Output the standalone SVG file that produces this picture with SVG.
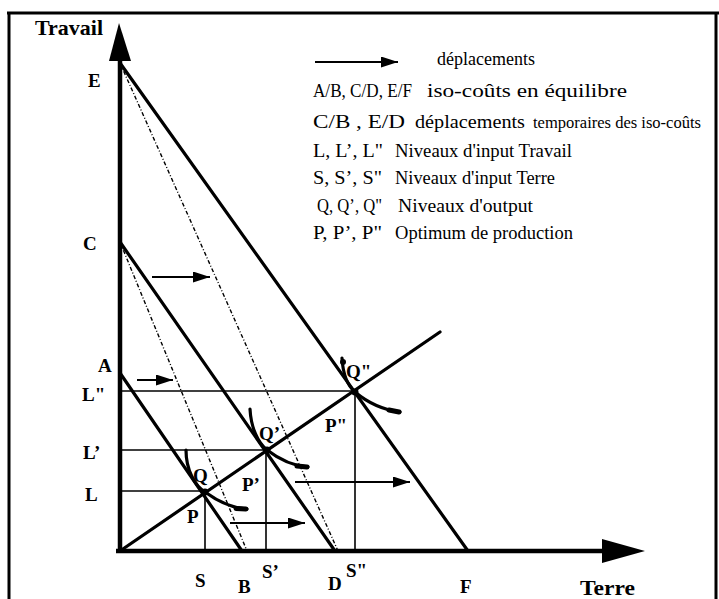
<svg xmlns="http://www.w3.org/2000/svg" width="719" height="599" viewBox="0 0 719 599">
<style>
.frame{stroke:#000;stroke-width:3;fill:none}
.axis{stroke:#000;stroke-width:4.5;fill:none}
.iso{stroke:#000;stroke-width:3.2;fill:none;stroke-linecap:round}
.tmp{stroke:#000;stroke-width:1.4;fill:none;stroke-dasharray:4 2 1 2}
.guide{stroke:#000;stroke-width:1.6;fill:none}
.quant{stroke:#000;stroke-width:3.2;fill:none;stroke-linecap:round}
.tail{stroke:#000;stroke-width:5;fill:none;stroke-linecap:round}
.mv{stroke:#000;stroke-width:2;fill:none}
.lab{font-family:"Liberation Serif","Times New Roman",serif;font-weight:bold;font-size:19px;fill:#000}
.big{font-size:21px}
.leg{font-family:"Liberation Serif","Times New Roman",serif;font-size:19px;fill:#000}
.small{font-size:16px}
</style>
<defs>
<marker id="ah" markerUnits="userSpaceOnUse" markerWidth="17" markerHeight="11" refX="17" refY="5.5" orient="auto">
<path d="M0,0 L17,5.5 L0,11 Z" fill="#000"/>
</marker>
</defs>
<rect x="0" y="0" width="719" height="599" fill="#fff"/>
<g id="frame">
<line class="frame" x1="7" y1="13" x2="719" y2="13"/>
<line class="frame" x1="9" y1="12" x2="9" y2="599"/>
<line class="frame" x1="716" y1="12" x2="716" y2="599"/>
</g>
<g id="axes">
<line class="axis" x1="120" y1="58" x2="120" y2="553"/>
<polygon points="119,23 131,61 109,61" fill="#000"/>
<line class="axis" x1="116" y1="551" x2="606" y2="551"/>
<polygon points="602,539 645,551 602,563" fill="#000"/>
</g>
<g id="connectors">
<g id="guides">
<line class="guide" x1="120" y1="391" x2="355" y2="391"/>
<line class="guide" x1="120" y1="450" x2="267" y2="450"/>
<line class="guide" x1="120" y1="491" x2="205" y2="491"/>
<line class="guide" x1="205" y1="491" x2="205" y2="551"/>
<line class="guide" x1="266" y1="450" x2="266" y2="551"/>
<line class="guide" x1="355" y1="391" x2="355" y2="551"/>
</g>
<g id="temporary-isocosts">
<line class="tmp" x1="120" y1="63" x2="338" y2="551"/>
<line class="tmp" x1="120" y1="242" x2="247" y2="551"/>
</g>
<g id="isocosts">
<line class="iso" x1="120" y1="63" x2="468" y2="551"/>
<line class="iso" x1="120" y1="242" x2="335" y2="551"/>
<line class="iso" x1="120" y1="373" x2="242" y2="551"/>
</g>
<line id="expansion-path" class="iso" x1="120" y1="551" x2="440" y2="332"/>
<g id="isoquants">
<path class="quant" d="M186,450 C186,470 195,486 205,492 C216,500 230,508 247,509"/>
<path class="tail" d="M236,508.5 L246,509"/>
<path class="quant" d="M250,409 C251,428 258,443 267,450 C280,460 294,466 308,467"/>
<path class="tail" d="M297,466 L307,467"/>
<path class="quant" d="M342,358 C343,375 348,386 355,392 C368,403 385,410 400,412"/>
<path class="tail" d="M389,410 L399,412"/>
<circle cx="205" cy="492" r="3.5"/>
<circle cx="267" cy="450" r="3.5"/>
<circle cx="355" cy="392" r="3.5"/>
<circle cx="343" cy="362" r="3"/>
</g>
<g id="moves">
<line class="mv" x1="137" y1="380" x2="173" y2="380" marker-end="url(#ah)"/>
<line class="mv" x1="152" y1="277" x2="210" y2="277" marker-end="url(#ah)"/>
<line class="mv" x1="230" y1="523" x2="305" y2="523" marker-end="url(#ah)"/>
<line class="mv" x1="295" y1="482" x2="410" y2="482" marker-end="url(#ah)"/>
</g>
</g>
<g id="axis-labels">
<text class="lab big" x="35" y="35" textLength="68" lengthAdjust="spacingAndGlyphs">Travail</text>
<text class="lab big" x="580" y="595" textLength="55" lengthAdjust="spacingAndGlyphs">Terre</text>
<text class="lab" x="88" y="87">E</text>
<text class="lab" x="83" y="250">C</text>
<text class="lab" x="98" y="372">A</text>
<text class="lab" x="82" y="401">L"</text>
<text class="lab" x="83" y="459">L’</text>
<text class="lab" x="85" y="501">L</text>
<text class="lab" x="195" y="587">S</text>
<text class="lab" x="238" y="593">B</text>
<text class="lab" x="262" y="578">S’</text>
<text class="lab" x="328" y="590">D</text>
<text class="lab" x="346" y="577">S"</text>
<text class="lab" x="460" y="593">F</text>
</g>
<g id="point-labels">
<text class="lab" x="193" y="482">Q</text>
<text class="lab" x="187" y="523">P</text>
<text class="lab" x="259" y="440">Q’</text>
<text class="lab" x="242" y="491">P’</text>
<text class="lab" x="346" y="378">Q"</text>
<text class="lab" x="325" y="432">P"</text>
</g>
<g id="legend">
<line class="mv" x1="315" y1="62" x2="398" y2="62" marker-end="url(#ah)"/>
<text class="leg" x="437" y="65" textLength="98" lengthAdjust="spacingAndGlyphs">déplacements</text>
<text class="leg" x="313" y="97" textLength="99" lengthAdjust="spacingAndGlyphs">A/B, C/D, E/F</text>
<text class="leg" x="427" y="97" textLength="200" lengthAdjust="spacingAndGlyphs">iso-coûts en équilibre</text>
<text class="leg" x="313" y="128" textLength="92" lengthAdjust="spacingAndGlyphs">C/B , E/D</text>
<text class="leg" x="415" y="128" textLength="110" lengthAdjust="spacingAndGlyphs">déplacements</text>
<text class="leg small" x="533" y="128" textLength="168" lengthAdjust="spacingAndGlyphs">temporaires des iso-coûts</text>
<text class="leg" x="313" y="157" textLength="70" lengthAdjust="spacingAndGlyphs">L, L’, L"</text>
<text class="leg" x="395" y="157" textLength="177" lengthAdjust="spacingAndGlyphs">Niveaux d'input Travail</text>
<text class="leg" x="313" y="184" textLength="69" lengthAdjust="spacingAndGlyphs">S, S’, S"</text>
<text class="leg" x="395" y="184" textLength="160" lengthAdjust="spacingAndGlyphs">Niveaux d'input Terre</text>
<text class="leg" x="317" y="212" textLength="65" lengthAdjust="spacingAndGlyphs">Q, Q’, Q"</text>
<text class="leg" x="398" y="212" textLength="135" lengthAdjust="spacingAndGlyphs">Niveaux d'output</text>
<text class="leg" x="313" y="239" textLength="69" lengthAdjust="spacingAndGlyphs">P, P’, P"</text>
<text class="leg" x="395" y="239" textLength="178" lengthAdjust="spacingAndGlyphs">Optimum de production</text>
</g>
</svg>
